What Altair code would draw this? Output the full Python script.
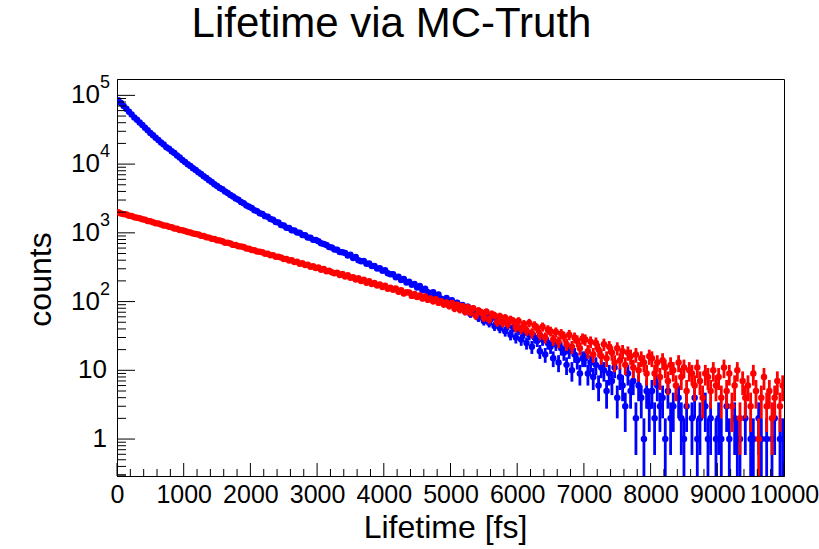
import math
import altair as alt
import pandas as pd

# ---------------- data (counts per bin) ----------------
BIN_WIDTH = 40  # fs

red_0k = [1990, 1918, 1871, 1842, 1779, 1760, 1688, 1662, 1630, 1571, 1548, 1490, 1475, 1430, 1379, 1371, 1318, 1281, 1270, 1222, 1207, 1158, 1150, 1099, 1092]
red_1k = [1064, 1028, 1015, 975, 962, 944, 905, 897, 861, 852, 818, 813, 779, 772, 755, 720, 718, 701, 668, 667, 637, 635, 620, 590, 589]
red_2k = [563, 560, 535, 531, 520, 497, 496, 471, 474, 449, 450, 438, 416, 417, 395, 398, 375, 379, 356, 360, 341, 344, 322, 326, 309]
red_3k = [312, 290, 298, 276, 281, 268, 258, 262, 244, 251, 232, 241, 222, 226, 210, 219, 199, 207, 188, 197, 180, 186, 171, 177, 163]
red_4k = [170, 154, 159, 149, 155, 139, 146, 131, 137, 135, 121, 129, 117, 123, 111, 119, 106, 111, 101, 108, 96, 101, 91, 97, 86]
red_5k = [95, 79, 90, 76, 86, 71, 83, 69, 80, 62, 74, 70, 58, 71, 55, 66, 63, 50, 61, 49, 58, 47, 55, 52, 42]
red_6k = [52, 40, 47, 38, 49, 35, 45, 41, 33, 43, 30, 39, 37, 28, 36, 26, 34, 31, 24, 33, 22, 30, 27, 21, 29]
red_7k = [28, 19, 26, 17, 25, 20, 16, 24, 15, 22, 18, 13, 21, 14, 19, 12, 18, 16, 11, 17, 10, 15, 13, 9, 16]
red_8k = [15, 9, 13, 8, 14, 11, 7, 12, 10, 6, 13, 8, 11, 5, 10, 9, 6, 11, 7, 4, 9, 8, 5, 10, 6]
red_9k = [8, 4, 11, 5, 9, 3, 6, 10, 2, 7, 4, 6, 3, 9, 5, 1, 4, 8, 3, 5, 2, 4, 7, 3, 6]

blue_0k = [84700, 77500, 70100, 63900, 57700, 52800, 47800, 44100, 40200, 37000, 33700, 31100, 28300, 26300, 24200, 22500, 20600, 19300, 17600, 16700, 15400, 14500, 13300, 12500, 11500]
blue_1k = [10750, 9960, 9390, 8720, 8210, 7620, 7190, 6680, 6300, 5830, 5490, 5100, 4810, 4500, 4290, 4000, 3810, 3560, 3390, 3160, 3020, 2810, 2690, 2500, 2400]
blue_2k = [2290, 2130, 2070, 1930, 1880, 1750, 1710, 1590, 1550, 1440, 1410, 1300, 1280, 1190, 1180, 1090, 1085, 1010, 1000, 930, 925, 858, 850, 790, 785]
blue_3k = [752, 703, 690, 665, 622, 614, 571, 566, 528, 521, 509, 468, 481, 431, 446, 400, 386, 388, 355, 357, 328, 330, 302, 305, 281]
blue_4k = [285, 258, 249, 250, 226, 229, 206, 213, 190, 194, 176, 180, 160, 168, 146, 154, 137, 131, 137, 118, 127, 110, 104, 113, 96]
blue_5k = [105, 86, 96, 80, 89, 72, 84, 66, 77, 71, 58, 69, 52, 63, 49, 58, 44, 53, 41, 49, 37, 45, 33, 42, 30]
blue_6k = [39, 28, 35, 25, 33, 22, 30, 27, 19, 28, 17, 25, 22, 15, 24, 13, 21, 18, 12, 19, 10, 17, 14, 9, 15]
blue_7k = [15, 9, 13, 8, 12, 6, 11, 10, 5, 9, 7, 11, 4, 8, 6, 3, 9, 5, 7, 2, 6, 4, 1, 5, 3]
blue_8k = [5, 2, 6, 3, 4, 1, 5, 2, 3, 0, 4, 2, 1, 3, 0, 2, 4, 1, 2, 0, 3, 1, 2, 0, 1]
blue_9k = [2, 1, 0, 3, 1, 0, 2, 1, 1, 0, 2, 0, 1, 1, 0, 2, 1, 0, 1, 0, 1, 2, 0, 1, 1]

red_blocks = [red_0k, red_1k, red_2k, red_3k, red_4k, red_5k, red_6k, red_7k, red_8k, red_9k]
blue_blocks = [blue_0k, blue_1k, blue_2k, blue_3k, blue_4k, blue_5k, blue_6k, blue_7k, blue_8k, blue_9k]

title_text = ["Lifetime via MC-Truth"]
x_major = [0, 1000, 2000, 3000, 4000, 5000, 6000, 7000, 8000, 9000, 10000]
x_minor = [v for v in range(0, 10001, 200) if v % 1000 != 0]
y_plain_vals = [1, 10]
y_plain_text = ["1", "10"]
y_pow_vals = [100, 1000, 10000, 100000]
y_pow_exp = ["2", "3", "4", "5"]
y_major = [1, 10, 100, 1000, 10000, 100000]
y_minor = [k * 10.0 ** d for d in range(-1, 5) for k in range(2, 10) if 0.29 <= k * 10.0 ** d <= 1.73e5] + [0.3]

X_DOMAIN = [0, 10000]
Y_DOMAIN = [0.29, 1.73e5]
FONT = "Liberation Sans"
W, H = 667, 397


def hist_frame(blocks):
    rows = []
    for b, block in enumerate(blocks):
        for i, c in enumerate(block):
            if c <= 0:
                continue
            err = math.sqrt(c)
            rows.append({
                "x": b * 1000 + BIN_WIDTH / 2 + i * BIN_WIDTH,
                "y": c,
                "lo": max(c - err, 0.05),
                "hi": c + err,
            })
    return pd.DataFrame(rows)


df_blue = hist_frame(blue_blocks)
df_red = hist_frame(red_blocks)

xscale = alt.Scale(domain=X_DOMAIN, nice=False, zero=False)
yscale = alt.Scale(type="log", domain=Y_DOMAIN, nice=False)

x_axis = alt.Axis(
    title="Lifetime [fs]", values=x_major, format="d", grid=False,
    ticks=False, tickSize=0, domain=True, domainColor="black", domainWidth=1,
    labelFont=FONT, labelFontSize=25, labelColor="black", labelPadding=6,
    labelOverlap=False, labelFlush=False,
    titleFont=FONT, titleFontSize=32, titleFontWeight="normal", titleColor="black",
    titleX=328, titleY=61, titleBaseline="alphabetic", titleAlign="center",
)
y_axis = alt.Axis(
    title="counts", labels=False, grid=False, ticks=False, tickSize=0,
    domain=True, domainColor="black", domainWidth=1,
    titleFont=FONT, titleFontSize=32, titleFontWeight="normal", titleColor="black",
    titleAngle=270, titleX=-67, titleY=200, titleAlign="center", titleBaseline="alphabetic",
)


def X(field):
    return alt.X(field, type="quantitative", scale=xscale, axis=x_axis)


def Y(field):
    return alt.Y(field, type="quantitative", scale=yscale, axis=y_axis)


def series(df, color):
    bars = alt.Chart(df).mark_rule(color=color, strokeWidth=2.8, clip=True).encode(
        x=X("x"), y=Y("lo"), y2="hi"
    )
    pts = alt.Chart(df).mark_circle(color=color, size=42, opacity=1, clip=True).encode(
        x=X("x"), y=Y("y")
    )
    return [bars, pts]


# ticks drawn inside the frame (ROOT style)
tick_xmaj = alt.Chart(pd.DataFrame({"t": x_major})).mark_rule(color="black", strokeWidth=1).encode(
    x=X("t"), y=alt.value(H), y2=alt.value(H - 13))
tick_xmin = alt.Chart(pd.DataFrame({"t": x_minor})).mark_rule(color="black", strokeWidth=1).encode(
    x=X("t"), y=alt.value(H), y2=alt.value(H - 7))
tick_ymaj = alt.Chart(pd.DataFrame({"t": y_major})).mark_rule(color="black", strokeWidth=1).encode(
    y=Y("t"), x=alt.value(0), x2=alt.value(18))
tick_ymin = alt.Chart(pd.DataFrame({"t": y_minor})).mark_rule(color="black", strokeWidth=1).encode(
    y=Y("t"), x=alt.value(0), x2=alt.value(9))

# y tick labels with superscript exponents
lab_plain = alt.Chart(pd.DataFrame({"t": y_plain_vals, "s": y_plain_text})).mark_text(
    font=FONT, fontSize=26, align="right", baseline="middle", color="black").encode(
    y=Y("t"), x=alt.value(-10), text="s:N")
lab_base = alt.Chart(pd.DataFrame({"t": y_pow_vals, "s": ["10"] * len(y_pow_vals)})).mark_text(
    font=FONT, fontSize=26, align="right", baseline="middle", color="black").encode(
    y=Y("t"), x=alt.value(-17), text="s:N")
lab_exp = alt.Chart(pd.DataFrame({"t": y_pow_vals, "s": y_pow_exp})).mark_text(
    font=FONT, fontSize=18, align="left", baseline="middle", dy=-12, color="black").encode(
    y=Y("t"), x=alt.value(-17), text="s:N")

# chart title (placed above the frame, centred like the ROOT title box)
title_mark = alt.Chart(pd.DataFrame({"s": title_text})).mark_text(
    font=FONT, fontSize=42, align="center", baseline="alphabetic", color="black").encode(
    x=alt.value(274.5), y=alt.value(-42), text="s:N")

layers = series(df_blue, "#0000ff") + series(df_red, "#ff0000") + [
    tick_xmaj, tick_xmin, tick_ymaj, tick_ymin, lab_plain, lab_base, lab_exp, title_mark]

chart = alt.layer(*layers).properties(
    width=W, height=H,
    autosize=alt.AutoSizeParams(type="none"),
    padding={"left": 117, "top": 79, "right": 35, "bottom": 73},
    background="white",
).configure_view(stroke="black", strokeWidth=1)

chart.save("out.html", embed_options={"renderer": "svg", "actions": False})
